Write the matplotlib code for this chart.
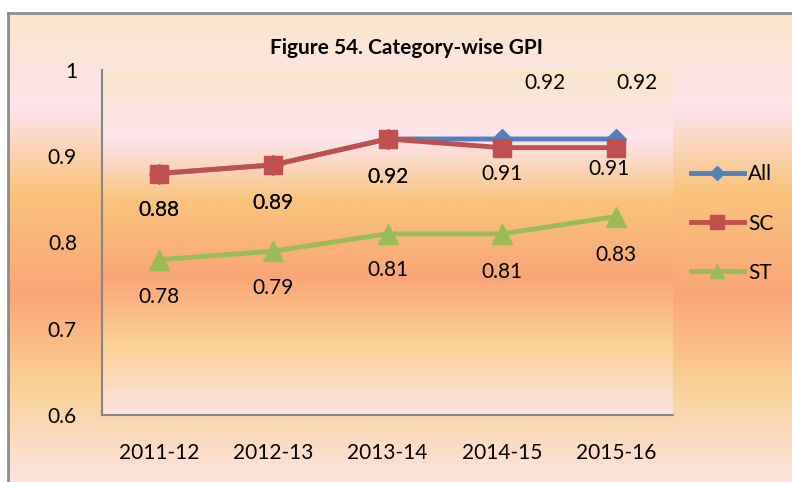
import numpy as np
import matplotlib.pyplot as plt
from matplotlib.colors import LinearSegmentedColormap
from matplotlib.lines import Line2D

plt.rcParams['font.family'] = ['Lato', 'DejaVu Sans']

years = ["2011-12", "2012-13", "2013-14", "2014-15", "2015-16"]
gpi_all = [0.88, 0.89, 0.92, 0.92, 0.92]
gpi_sc = [0.88, 0.89, 0.92, 0.91, 0.91]
gpi_st = [0.78, 0.79, 0.81, 0.81, 0.83]
y_ticks = [0.6, 0.7, 0.8, 0.9, 1.0]
y_labels = ["0.6", "0.7", "0.8", "0.9", "1"]

# where each data label sits relative to its point (pixels)
off_all = [(0, -37), (0, -38), (0, -38), (43, 56), (21, 56)]
off_sc = [(0, -37), (0, -38), (0, -38), (0, -26), (-7, -21)]
off_st = [(0, -37), (0, -37), (0, -36), (0, -38), (0, -38)]

# Excel-style preset fill used on both chart and plot area
fill = LinearSegmentedColormap.from_list("fill", [
    (0.00, "#fae6cb"),
    (0.20, "#fde4ec"),
    (0.38, "#f9c47c"),
    (0.60, "#f9a678"),
    (0.80, "#fad297"),
    (1.00, "#fde3df"),
])
grad = fill(np.linspace(0, 1, 256)).reshape(256, 1, 4)

W, H = 792, 482
fig = plt.figure(figsize=(W / 100, H / 100), dpi=100)

# chart area background + border
bg = fig.add_axes([8 / W, 0, 1, 1 - 13 / H])
bg.imshow(grad, aspect='auto', extent=[0, 1, 0, 1])
bg.set_axis_off()
fig.add_artist(Line2D([8 / W, 1], [1 - 13 / H, 1 - 13 / H], color="#8c8c8c", lw=2))
fig.add_artist(Line2D([8 / W, 8 / W], [0, 1 - 13 / H], color="#8c8c8c", lw=2))

ax = fig.add_axes([102 / W, (H - 415) / H, 571 / W, 345 / H])
ax.imshow(grad, aspect='auto', extent=[-0.5, 4.5, 0.6, 1.0], zorder=0)
ax.set_xlim(-0.5, 4.5)
ax.set_ylim(0.6, 1.0)

x = np.arange(len(years))
series = [
    ("All", gpi_all, "#4f81bd", "D", 10, off_all),
    ("SC", gpi_sc, "#c0504d", "s", 13.5, off_sc),
    ("ST", gpi_st, "#9bbb59", "^", 14, off_st),
]
handles = []
for name, vals, col, mk, ms, offs in series:
    h, = ax.plot(x, vals, color=col, lw=3.5, marker=mk, markersize=ms,
                 markerfacecolor=col, markeredgecolor=col, label=name, zorder=3)
    handles.append(h)
    for xi, v, (dx, dy) in zip(x, vals, offs):
        ax.annotate(f"{v:.2f}", (xi, v), xytext=(dx, dy), textcoords='offset pixels',
                    ha='center', va='center', fontsize=15, color='black', zorder=4)

ax.set_xticks(x)
ax.set_xticklabels(years)
ax.set_yticks(y_ticks)
ax.set_yticklabels(y_labels)
ax.tick_params(axis='both', length=0, labelsize=15, colors='black')
ax.tick_params(axis='y', pad=18)
ax.tick_params(axis='x', pad=20)
for s in ['top', 'right']:
    ax.spines[s].set_visible(False)
for s in ['left', 'bottom']:
    ax.spines[s].set_color("#868686")
    ax.spines[s].set_linewidth(1.5)
ax.patch.set_visible(False)

ax.legend(handles=handles, loc='center left', bbox_to_anchor=(1.031, 0.555),
          frameon=False, fontsize=15, borderpad=0, borderaxespad=0,
          handlelength=2.55, handletextpad=0.2, labelspacing=1.4, markerscale=0.75)

fig.text(406 / W, 1 - 48 / H, "Figure 54. Category-wise GPI", ha='center', va='center',
         fontsize=15, fontweight='bold')

fig.savefig("out.png", dpi=100)
